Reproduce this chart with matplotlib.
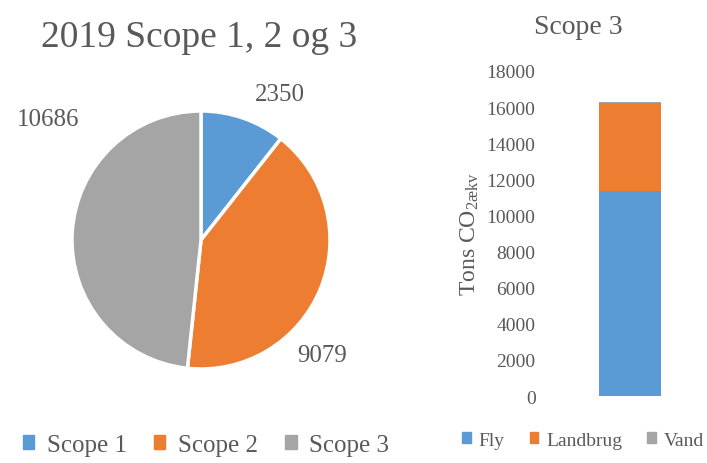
import matplotlib
matplotlib.use("Agg")
import matplotlib.pyplot as plt
from matplotlib.patches import Patch

plt.rcParams['font.family'] = ['Liberation Serif', 'DejaVu Serif']
plt.rcParams['mathtext.fontset'] = 'custom'
plt.rcParams['mathtext.rm'] = 'Liberation Serif'
plt.rcParams['mathtext.it'] = 'Liberation Serif'

# pie data
scope_labels = ["Scope 1", "Scope 2", "Scope 3"]
scope_values = [2350, 9079, 10686]

# scope 3 breakdown
s3_labels = ["Fly", "Landbrug", "Vand"]
s3_values = [11350, 4870, 60]
y_ticks = [0, 2000, 4000, 6000, 8000, 10000, 12000, 14000, 16000, 18000]

colors = ['#5B9BD5', '#ED7D31', '#A5A5A5']
text_grey = '#595959'

W, H = 707, 464
fig = plt.figure(figsize=(W / 100, H / 100), dpi=100)


def px_axes(x0, y0, x1, y1):
    # axes from pixel box (top-left origin)
    return fig.add_axes([x0 / W, 1 - y1 / H, (x1 - x0) / W, (y1 - y0) / H])


# ---- pie ----
ax1 = px_axes(72, 112, 330, 370)
wedges, _ = ax1.pie(scope_values, colors=colors, startangle=90, counterclock=False,
                    radius=1.0, wedgeprops=dict(edgecolor='white', linewidth=2.5))
ax1.set_xlim(-1, 1)
ax1.set_ylim(-1, 1)
ax1.set_aspect('equal')

# data labels outside the slices
label_pos = [(280, 95), (322, 356), (48, 120)]
for val, (px, py) in zip(scope_values, label_pos):
    fig.text(px / W, 1 - py / H, str(val), fontsize=18, color=text_grey,
             ha='center', va='center')

fig.text(199 / W, 1 - 38 / H, "2019 Scope 1, 2 og 3", fontsize=27, color=text_grey,
         ha='center', va='center')

handles = [Patch(color=c) for c in colors]
fig.legend(handles, scope_labels, loc='center', bbox_to_anchor=(206 / W, 1 - 446 / H),
           ncol=3, frameon=False, fontsize=18, labelcolor=text_grey,
           handlelength=0.45, handleheight=0.45, handletextpad=0.5, columnspacing=1.1)

# ---- stacked bar ----
ax2 = px_axes(555, 72, 705, 397)
bottom = 0
for lab, val, col in zip(s3_labels, s3_values, colors):
    ax2.bar(0, val, width=0.413, bottom=bottom, color=col, label=lab)
    bottom += val
ax2.set_xlim(-0.5, 0.5)
ax2.set_ylim(0, 18000)
ax2.set_yticks(y_ticks)
ax2.set_yticklabels([str(t) for t in y_ticks], fontsize=14, color=text_grey)
ax2.tick_params(axis='y', length=0, pad=14)
ax2.set_xticks([])
for s in ax2.spines.values():
    s.set_visible(False)
ax2.set_ylabel(r"Tons CO$_{\mathrm{2ækv}}$", fontsize=17, color=text_grey, labelpad=4)

fig.text(578 / W, 1 - 27 / H, "Scope 3", fontsize=20, color=text_grey,
         ha='center', va='center')

fig.legend(handles, s3_labels, loc='center', bbox_to_anchor=(583 / W, 1 - 441 / H),
           ncol=3, frameon=False, fontsize=14, labelcolor=text_grey,
           handlelength=0.45, handleheight=0.45, handletextpad=0.4, columnspacing=1.3)

fig.savefig("out.png", dpi=100)
